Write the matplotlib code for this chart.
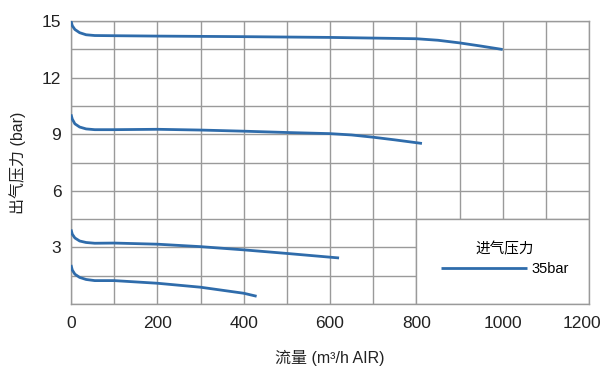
import matplotlib
matplotlib.use("Agg")
import matplotlib.pyplot as plt
import matplotlib.transforms as mtransforms

# Data
flow_15 = [0, 3, 9, 20, 35, 55, 100, 200, 400, 600, 800, 850, 900, 950, 1000]
pres_15 = [15.0, 14.75, 14.55, 14.38, 14.27, 14.23, 14.22, 14.2, 14.17, 14.13, 14.06, 13.98, 13.84, 13.67, 13.49]

flow_10 = [0, 3, 9, 20, 35, 55, 100, 200, 300, 400, 500, 600, 650, 700, 750, 813]
pres_10 = [10.05, 9.8, 9.55, 9.38, 9.28, 9.24, 9.24, 9.26, 9.22, 9.16, 9.09, 9.03, 8.96, 8.84, 8.7, 8.51]

flow_4 = [0, 3, 9, 20, 35, 55, 100, 200, 300, 400, 500, 621]
pres_4 = [3.95, 3.7, 3.5, 3.34, 3.26, 3.22, 3.23, 3.17, 3.04, 2.87, 2.68, 2.44]

flow_2 = [0, 3, 9, 20, 35, 55, 100, 200, 300, 400, 430]
pres_2 = [2.07, 1.8, 1.58, 1.41, 1.3, 1.24, 1.24, 1.1, 0.89, 0.57, 0.41]

xticks = [0, 200, 400, 600, 800, 1000, 1200]
yticks = [3, 6, 9, 12, 15]
legend_title = "进气压力"
legend_label = "35bar"

plt.rcParams['font.family'] = ['Liberation Sans', 'Noto Sans CJK SC', 'DejaVu Sans']

fig = plt.figure(figsize=(6.06, 3.67), dpi=100)
ax = fig.add_axes([71/606, 1 - 304/367, 518/606, 283/367])

color = "#2f6cab"
grid_c = "#9a9a9a"

ax.set_xlim(0, 1200)
ax.set_ylim(0, 15)
ax.set_xticks([i * 100 for i in range(13)], minor=True)
ax.set_yticks([i * 1.5 for i in range(11)], minor=True)
ax.set_xticks(xticks)
ax.set_yticks(yticks)
ax.grid(True, which='both', color=grid_c, linewidth=1.0)
ax.set_axisbelow(True)
ax.tick_params(which='both', length=0, labelsize=12.5, colors='#222222')
ax.tick_params(axis='x', pad=9)
ax.tick_params(axis='y', pad=7)
for s in ax.spines.values():
    s.set_color(grid_c)
    s.set_linewidth(1.0)

# shift last x tick label a bit left so it fits
last = ax.get_xticklabels()[-1]
last.set_transform(last.get_transform() + mtransforms.ScaledTranslation(-7/100, 0, fig.dpi_scale_trans))

# legend area (white box covering grid)
ax.add_patch(plt.Rectangle((800, 0), 400, 4.5, facecolor='white', edgecolor=grid_c,
                           linewidth=1.0, zorder=1.5))

l1, = ax.plot(flow_15, pres_15, color=color, lw=2.0, zorder=3, label=legend_label,
              solid_capstyle='butt')
ax.plot(flow_10, pres_10, color=color, lw=2.0, zorder=3, solid_capstyle='butt')
ax.plot(flow_4, pres_4, color=color, lw=2.0, zorder=3, solid_capstyle='butt')
ax.plot(flow_2, pres_2, color=color, lw=2.0, zorder=3, solid_capstyle='butt')

leg = ax.legend(handles=[l1], title=legend_title, loc='center',
                bbox_to_anchor=(0.838, 0.16), frameon=False, fontsize=10.5,
                title_fontsize=10.5, handlelength=5.9, handletextpad=0.3,
                borderpad=0, labelspacing=0)
leg._legend_box.sep = 4
leg.set_zorder(4)

ax.set_xlabel("流量 (m³/h AIR)", fontsize=11.5, labelpad=13, color='#222222')
ax.set_ylabel("出气压力 (bar)", fontsize=11.5, labelpad=11, color='#222222')

fig.savefig("out.png", dpi=100)
